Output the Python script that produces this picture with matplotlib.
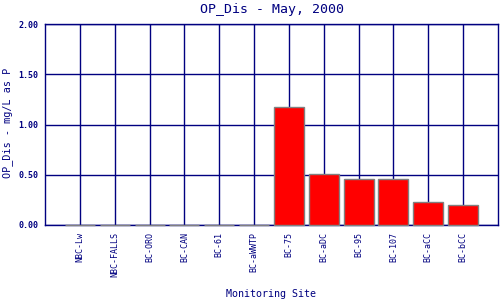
import matplotlib
matplotlib.use("Agg")
import matplotlib.pyplot as plt

sites = ["NBC-Lw", "NBC-FALLS", "BC-ORO", "BC-CAN", "BC-61", "BC-aWWTP",
         "BC-75", "BC-aDC", "BC-95", "BC-107", "BC-aCC", "BC-bCC"]
values = [0.0, 0.0, 0.0, 0.0, 0.0, 0.0, 1.17, 0.51, 0.455, 0.455, 0.225, 0.195]
yticks = [0.0, 0.5, 1.0, 1.5, 2.0]
ytick_labels = ["0.00", "0.50", "1.00", "1.50", "2.00"]

navy = "#000080"
plt.rcParams['font.family'] = ['DejaVu Sans Mono']

fig = plt.figure(figsize=(5, 3), dpi=100)
ax = fig.add_axes([45/500, 75/300, 453/500, 201/300])

x = list(range(len(sites)))
ax.set_xlim(-1, len(sites))
ax.set_ylim(0, 2.0)
ax.set_xticks(x)
ax.set_xticklabels(sites, rotation=90, fontsize=6, color=navy)
ax.set_yticks(yticks)
ax.set_yticklabels(ytick_labels, fontsize=6, color=navy, fontweight='bold')
ax.tick_params(length=0, pad=5)
ax.grid(True, color=navy, linewidth=1)
ax.set_axisbelow(True)
for s in ax.spines.values():
    s.set_color(navy)
    s.set_linewidth(1)

ax.bar(x, values, width=0.86, color="#ff0000", edgecolor="#808080", linewidth=1, zorder=3, clip_on=False)

fig.text(271.5/500, 1 - 9/300, "OP_Dis - May, 2000", fontsize=9.5, color=navy,
         ha="center", va="center")
fig.text(8/500, 1 - 123/300, "OP_Dis - mg/L as P", fontsize=7.3, color=navy,
         ha="center", va="center", rotation=90)
fig.text(271.5/500, 1 - 294/300, "Monitoring Site", fontsize=7.2, color=navy,
         ha="center", va="center")

fig.savefig("out.png", dpi=100)
